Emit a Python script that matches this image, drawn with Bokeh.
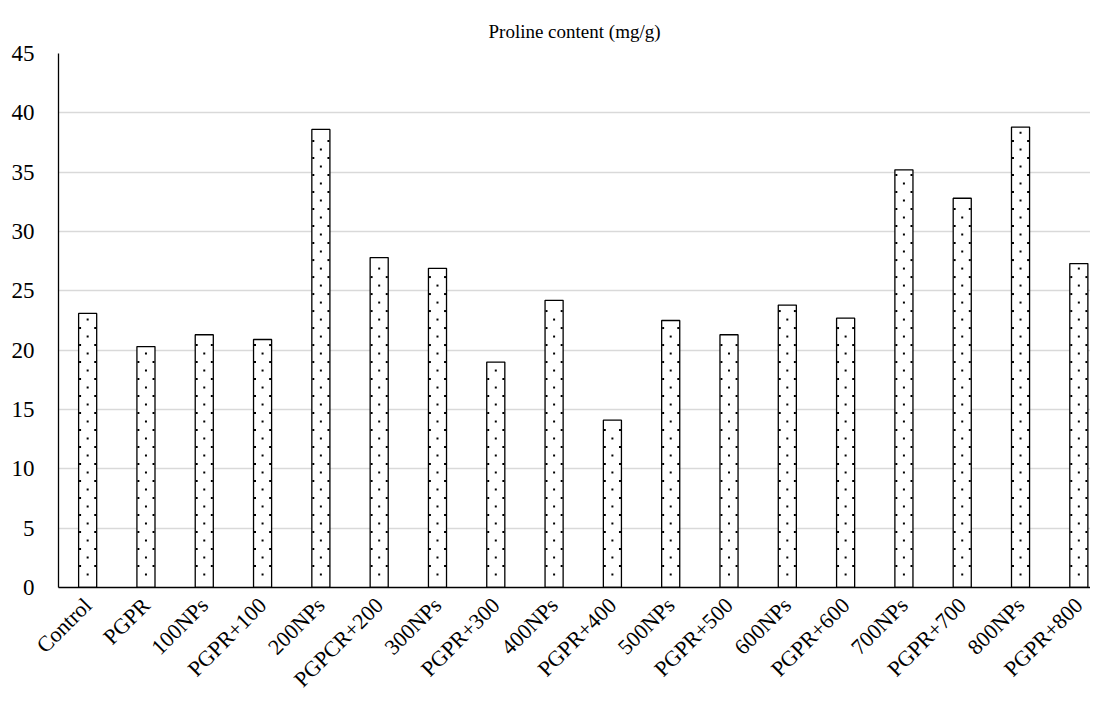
import math
from bokeh.plotting import figure
from bokeh.models import Range1d, FixedTicker, Label, ColumnDataSource
from bokeh.embed import file_html
from bokeh.resources import INLINE

categories = ["Control", "PGPR", "100NPs", "PGPR+100", "200NPs", "PGPCR+200",
              "300NPs", "PGPR+300", "400NPs", "PGPR+400", "500NPs", "PGPR+500",
              "600NPs", "PGPR+600", "700NPs", "PGPR+700", "800NPs", "PGPR+800"]
proline = [23.1, 20.3, 21.3, 20.9, 38.6, 27.8, 26.9, 19.0, 24.2, 14.1,
           22.5, 21.3, 23.8, 22.7, 35.2, 32.8, 38.8, 27.3]
y_ticks = [0, 5, 10, 15, 20, 25, 30, 35, 40, 45]

FONT = "Liberation Serif"
BAR_W = 0.31
idx = list(range(len(categories)))
src = ColumnDataSource(dict(x=idx, top=proline))

# dotted fill of each bar (staggered dot lattice), derived from the bar values
STEP = 0.716           # half vertical period, data units
dot_x, dot_y = [], []
for i, v in zip(idx, proline):
    k = 0
    y = 1.1
    while y < v - 0.3:
        if k % 2 == 0:
            dot_x.append(i); dot_y.append(y)
        else:
            dot_x.extend([i - 0.13, i + 0.13]); dot_y.extend([y, y])
        k += 1
        y += STEP
dot_src = ColumnDataSource(dict(x=dot_x, y=dot_y))

p = figure(width=1090, height=704, output_backend="svg", toolbar_location=None,
           x_range=Range1d(-0.5, 17.2), y_range=Range1d(0, 45),
           min_border_left=58, min_border_right=0, min_border_top=53,
           min_border_bottom=117)

p.vbar(x="x", top="top", width=BAR_W, source=src, fill_color="white",
       line_color="black", line_width=1.3)
p.scatter(x="x", y="y", source=dot_src, marker="square", size=2,
          fill_color="black", line_color=None)

p.title.text = "Proline content (mg/g)"
p.title.align = "center"
p.title.vertical_align = "middle"
p.title.text_font = FONT
p.title.text_font_size = "19px"
p.title.text_font_style = "normal"
p.title.text_color = "black"
p.title.standoff = 22

p.outline_line_color = None
p.xgrid.grid_line_color = None
p.ygrid.grid_line_color = "#d9d9d9"
p.ygrid.grid_line_width = 1.5

p.yaxis.ticker = FixedTicker(ticks=y_ticks)
p.yaxis.major_label_text_font = FONT
p.yaxis.major_label_text_font_size = "23px"
p.yaxis.major_label_text_color = "black"
p.yaxis.major_tick_line_color = None
p.yaxis.minor_tick_line_color = None
p.yaxis.axis_line_color = "black"
p.yaxis.axis_line_width = 1.3
p.yaxis.major_label_standoff = 18

p.xaxis.ticker = FixedTicker(ticks=idx)
p.xaxis.major_label_overrides = {i: c for i, c in enumerate(categories)}
p.xaxis.major_label_orientation = math.pi / 4
p.xaxis.major_label_text_font = FONT
p.xaxis.major_label_text_font_size = "22px"
p.xaxis.major_label_text_color = "black"
p.xaxis.major_tick_line_color = None
p.xaxis.minor_tick_line_color = None
p.xaxis.axis_line_color = "black"
p.xaxis.axis_line_width = 1.3
p.xaxis.major_label_standoff = 8

p.add_layout(Label(x=-56, y=-112, x_units="screen", y_units="screen", text="(d)",
                   text_font=FONT, text_font_size="22px", text_color="white",
                   text_baseline="bottom", level="overlay",
                   background_fill_color="black", padding=2))

open("out.html", "w").write(file_html(p, INLINE))
